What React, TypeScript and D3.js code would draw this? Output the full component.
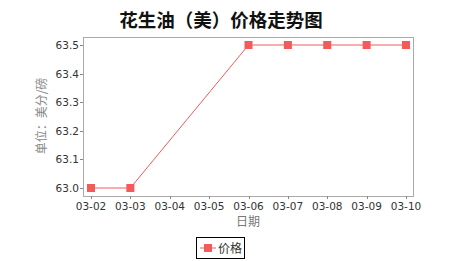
import React from "react";
import * as d3 from "d3";

const dates = ["03-02", "03-03", "03-06", "03-07", "03-08", "03-09", "03-10"];
const prices = [63.0, 63.0, 63.5, 63.5, 63.5, 63.5, 63.5];
const xTickLabels = ["03-02", "03-03", "03-04", "03-05", "03-06", "03-07", "03-08", "03-09", "03-10"];
const yTicks = [63.0, 63.1, 63.2, 63.3, 63.4, 63.5];
const title = "花生油（美）价格走势图";
const xTitle = "日期";
const yTitle = "单位：美分/磅";
const seriesName = "价格";

const W = 459, H = 261;
const plot = { left: 83, right: 413, top: 37, bottom: 196 };
const parse = (s: string) => new Date(2020, +s.slice(0, 2) - 1, +s.slice(3));

export default function App() {
  const x = d3.scaleTime()
    .domain([parse(xTickLabels[0]), parse(xTickLabels[xTickLabels.length - 1])])
    .range([91, 406]);
  const y = d3.scaleLinear().domain([63.0, 63.5]).range([188, 45]);
  const pts = dates.map((d, i) => [x(parse(d)), y(prices[i])] as [number, number]);
  const line = d3.line()(pts) || "";
  const red = "#f45a5a";
  const font = "'DejaVu Sans', sans-serif";
  return (
    <svg width={W} height={H} style={{ position: "absolute", left: 0, top: 0 }}>
      <rect width={W} height={H} fill="#fff" />
      <text x={221} y={27} textAnchor="middle" fontSize={18.5} fontWeight="bold"
        fontFamily="'Noto Sans CJK SC', sans-serif" fill="#111">{title}</text>
      <rect x={plot.left} y={plot.top} width={plot.right - plot.left} height={plot.bottom - plot.top}
        fill="#fff" stroke="#aaa" strokeWidth={1} shapeRendering="crispEdges" />
      {yTicks.map((t) => (
        <g key={t}>
          <line x1={plot.left - 3} x2={plot.left} y1={Math.round(y(t)) + 0.5} y2={Math.round(y(t)) + 0.5} stroke="#888" />
          <text x={plot.left - 4} y={y(t) + 4} textAnchor="end" fontSize={10.5} fontFamily={font} fill="#333">
            {t.toFixed(1)}
          </text>
        </g>
      ))}
      {xTickLabels.map((t) => (
        <g key={t}>
          <line x1={Math.round(x(parse(t))) + 0.5} x2={Math.round(x(parse(t))) + 0.5} y1={plot.bottom} y2={plot.bottom + 3} stroke="#888" />
          <text x={x(parse(t))} y={210} textAnchor="middle" fontSize={10.5} fontFamily={font} fill="#333">{t}</text>
        </g>
      ))}
      <text x={248} y={226} textAnchor="middle" fontSize={12} fontFamily="'Noto Sans CJK SC', sans-serif" fill="#777">{xTitle}</text>
      <text transform={`translate(46,116) rotate(-90)`} textAnchor="middle" fontSize={12}
        fontFamily="'Noto Sans CJK SC', sans-serif" fill="#888">{yTitle}</text>
      <path d={line} fill="none" stroke={red} strokeWidth={1} />
      {pts.map(([px, py], i) => (
        <rect key={i} x={px - 4} y={py - 4} width={8} height={8} fill={red} />
      ))}
      <rect x={196.5} y={237.5} width={48} height={21} fill="#fff" stroke="#000" strokeWidth={1} />
      <line x1={200} x2={216} y1={248} y2={248} stroke={red} />
      <rect x={204} y={244} width={8} height={8} fill={red} />
      <text x={218} y={253} fontSize={12} fontFamily="'Noto Sans CJK SC', sans-serif" fill="#333">{seriesName}</text>
    </svg>
  );
}
